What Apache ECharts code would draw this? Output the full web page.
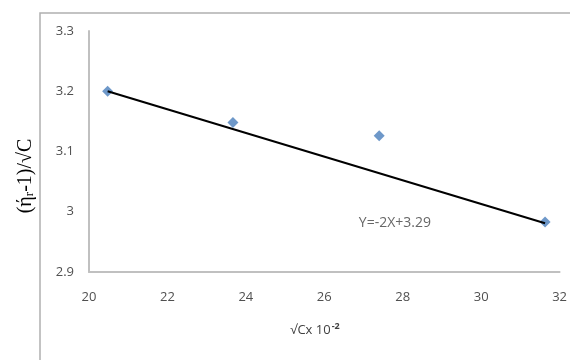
<!DOCTYPE html>
<html>
<head>
<meta charset="utf-8">
<script src="https://cdn.jsdelivr.net/npm/echarts@6/dist/echarts.min.js"></script>
<style>html,body{margin:0;padding:0;background:#fff}#c{width:570px;height:360px}</style>
</head>
<body>
<div id="c"></div>
<script>
const xValues = [20.475, 23.67, 27.40, 31.63];
const yValues = [3.200, 3.148, 3.126, 2.983];
const trendX = [20.475, 31.63];
const trendY = [3.200, 2.981];
const xTicks = [20, 22, 24, 26, 28, 30, 32];
const yTicks = [2.9, 3, 3.1, 3.2, 3.3];
const equationText = 'Y=-2X+3.29';
const equationPos = [27.8, 2.982];

const chart = echarts.init(document.getElementById('c'));
const axisGray = '#c0c0c0';
const labelGray = '#505050';
chart.setOption({
  animation: false,
  backgroundColor: '#fff',
  grid: { left: 89, right: 9, top: 31, bottom: 88 },
  xAxis: {
    type: 'value', min: xTicks[0], max: xTicks[xTicks.length - 1], interval: 2,
    axisLine: { show: true, lineStyle: { color: axisGray, width: 2 } },
    axisTick: { show: false }, splitLine: { show: false },
    axisLabel: { color: labelGray, fontSize: 13, margin: 19, fontFamily: 'Open Sans' }
  },
  yAxis: {
    type: 'value', min: yTicks[0], max: yTicks[yTicks.length - 1], interval: 0.1,
    axisLine: { show: true, lineStyle: { color: axisGray, width: 2 } },
    axisTick: { show: false }, splitLine: { show: false },
    axisLabel: { color: labelGray, fontSize: 13, margin: 15, fontFamily: 'Open Sans',
      formatter: v => String(Math.round(v * 10) / 10) }
  },
  graphic: [
    { type: 'rect', shape: { x: 40, y: 13, width: 700, height: 500 },
      style: { fill: 'none', stroke: '#b0b0b0', lineWidth: 1.5 }, z: -1 },
    { type: 'text', x: 26, y: 176, rotation: Math.PI / 2, originX: 0, originY: 0,
      style: {
        text: '{a|(ή}{s|r}{a|-1)/√C}',
        align: 'center', verticalAlign: 'middle',
        rich: {
          a: { fontFamily: 'Liberation Serif', fontSize: 20, fill: '#000' },
          s: { fontFamily: 'Liberation Serif', fontSize: 13, fill: '#000', padding: [8, 0, 0, 0] }
        }
      }
    },
    { type: 'text', x: 315, y: 330,
      style: {
        text: '{a|√Cx 10}{s|-2}',
        align: 'center', verticalAlign: 'middle',
        rich: {
          a: { fontFamily: 'Open Sans', fontSize: 13, fill: '#404040' },
          s: { fontFamily: 'Open Sans', fontSize: 9, fontWeight: 'bold', fill: '#404040', padding: [0, 0, 8, 1] }
        }
      }
    }
  ],
  series: [
    {
      type: 'line', data: trendX.map((x, i) => [x, trendY[i]]),
      symbol: 'none', lineStyle: { color: '#000', width: 2 }, z: 3
    },
    {
      type: 'scatter', data: xValues.map((x, i) => [x, yValues[i]]),
      symbol: 'diamond', symbolSize: 11, itemStyle: { color: '#4a7ebb' }, z: 2
    },
    {
      type: 'scatter', data: [equationPos], symbolSize: 1,
      itemStyle: { color: 'rgba(0,0,0,0)' }, silent: true,
      label: { show: true, position: 'inside', formatter: equationText,
        color: '#404040', fontSize: 14, fontFamily: 'Open Sans' }
    }
  ]
});
</script>
</body>
</html>
